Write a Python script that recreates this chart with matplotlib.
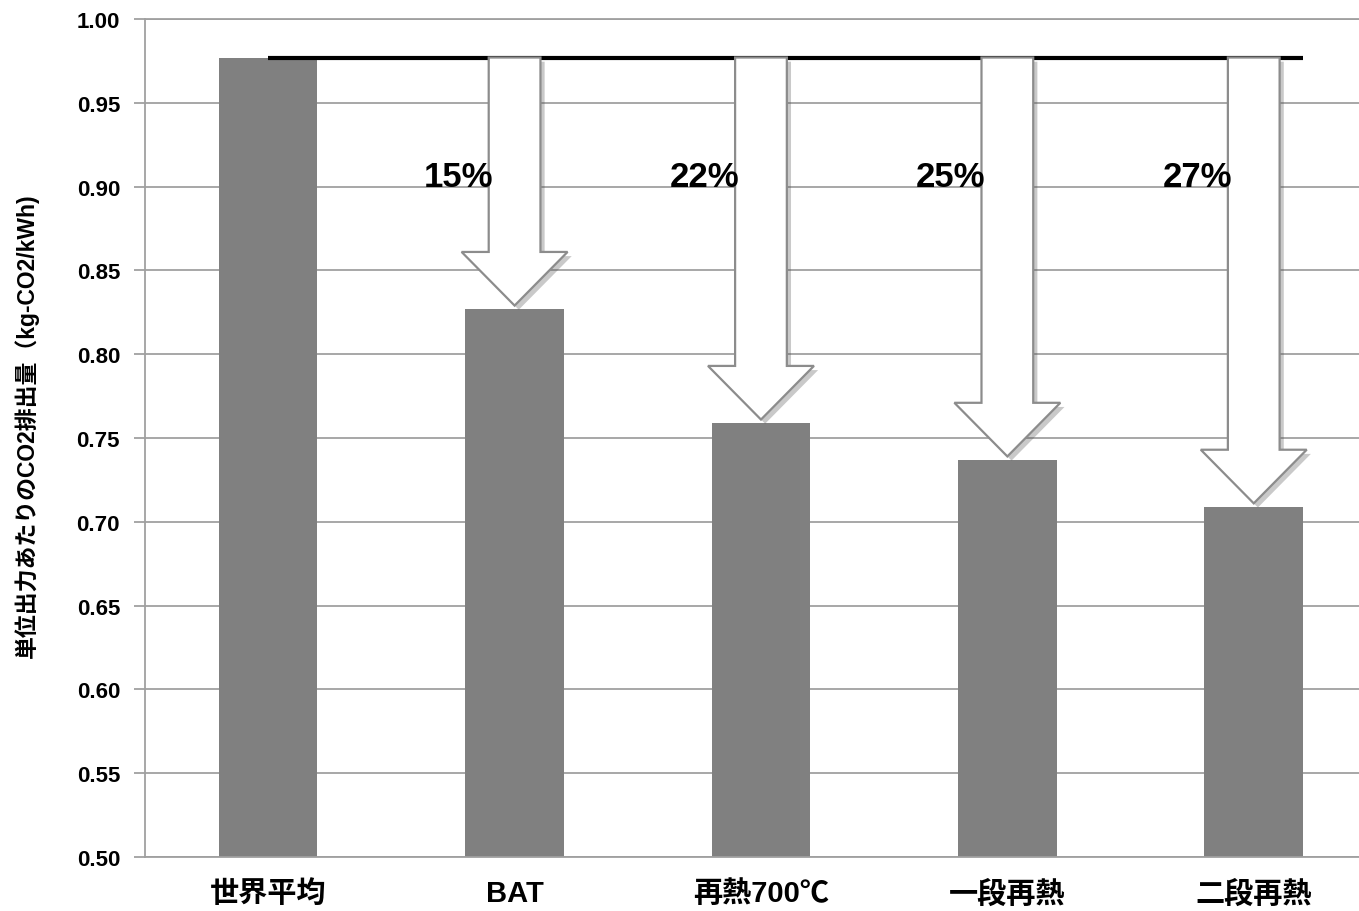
import numpy as np
import matplotlib
matplotlib.use('Agg')
import matplotlib.pyplot as plt
from matplotlib.patches import FancyArrow
import matplotlib.patheffects as pe

plt.rcParams['font.family'] = ['Liberation Sans', 'Noto Sans CJK JP', 'DejaVu Sans']
plt.rcParams['font.weight'] = 'bold'

# データ
categories = ['世界平均', 'BAT', '再熱700℃', '一段再熱', '二段再熱']
emissions = [0.977, 0.827, 0.759, 0.737, 0.709]
reduction_labels = ['15%', '22%', '25%', '27%']

fig = plt.figure(figsize=(13.59, 9.12), dpi=100)
ax = fig.add_axes([0.1067, 0.0592, 0.9065, 0.9189])

x = np.arange(len(categories))
ax.bar(x, emissions, width=0.4, color='#808080', zorder=2)

# 世界平均の水準線
base = emissions[0]
ax.plot([x[0], x[-1] + 0.2], [base, base], color='black', lw=3, zorder=3,
        solid_capstyle='butt')

# 削減率の矢印
for i, lab in zip(x[1:], reduction_labels):
    top = emissions[i] + 0.002
    arr = FancyArrow(i, base, 0, top - base, width=0.21, head_width=0.43,
                     head_length=0.032, length_includes_head=True,
                     facecolor='white', edgecolor='#8c8c8c', lw=1.6, zorder=4,
                     path_effects=[pe.SimplePatchShadow(offset=(3, -3), alpha=0.3),
                                   pe.Normal()])
    ax.add_patch(arr)
    ax.text(i - 0.088, 0.906, lab, ha='right', va='center', fontsize=25,
            fontweight='bold', zorder=5)

ax.set_xlim(-0.5, 4.5)
ax.set_ylim(0.5, 1.0)
ax.set_yticks(np.arange(0.5, 1.001, 0.05))
ax.set_yticklabels([f'{v:.2f}' for v in np.arange(0.5, 1.001, 0.05)])
ax.set_xticks(x)
ax.set_xticklabels(categories, fontsize=21, fontweight='bold')
ax.tick_params(axis='x', length=0, pad=16)
ax.tick_params(axis='y', length=8, color='#a0a0a0', width=1.3, labelsize=16, pad=10)
for t in ax.get_yticklabels():
    t.set_fontweight('bold')

ax.yaxis.grid(True, color='#a0a0a0', lw=1.3, zorder=0)
ax.set_axisbelow(True)
for s in ['left', 'bottom', 'top']:
    ax.spines[s].set_color('#a0a0a0')
    ax.spines[s].set_linewidth(1.3)
ax.spines['right'].set_visible(False)

ax.set_ylabel('単位出力あたりのCO2排出量（kg-CO2/kWh)', fontsize=16.5,
              fontweight='bold', labelpad=0)
ax.yaxis.set_label_coords(-0.086, 0.516)

fig.savefig('out.png', dpi=100)
